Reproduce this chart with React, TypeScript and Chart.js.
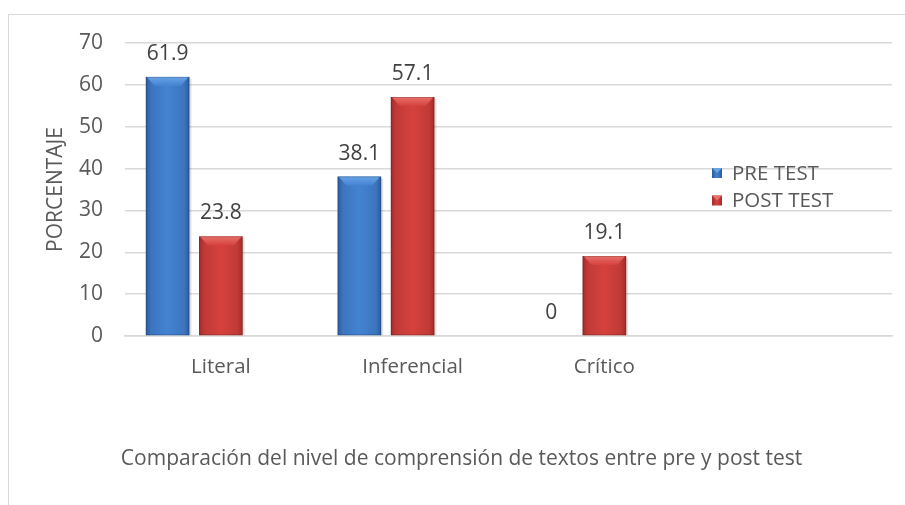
import React, { useEffect, useRef } from "react";
import { Chart, registerables } from "chart.js";

Chart.register(...registerables);

const categories = ["Literal", "Inferencial", "Crítico", ""];
const preTest = [61.9, 38.1, 0, null];
const postTest = [23.8, 57.1, 19.1, null];
const spacer = [null, null, null, null];
const seriesNames = ["PRE TEST", "POST TEST"];
const yTicks = [0, 10, 20, 30, 40, 50, 60, 70];
const xTitle = "Comparación del nivel de comprensión de textos entre pre y post test";
const yTitle = "PORCENTAJE";

const FONT = "'Open Sans', 'DejaVu Sans', sans-serif";
const TEXT = "#595959";

const palettes = [
  { edge: "#2c5c9c", mid: "#4383d2", top: "#6aa3e6", topEdge: "#3d74bd" },
  { edge: "#a22c2a", mid: "#d6413d", top: "#e8716b", topEdge: "#c03a36" },
];

const barStyler = {
  id: "barStyler",
  afterDatasetsDraw(chart: any) {
    const ctx = chart.ctx;
    [0, 1].forEach((di) => {
      const meta = chart.getDatasetMeta(di);
      const pal = palettes[di];
      meta.data.forEach((bar: any, i: number) => {
        const v = chart.data.datasets[di].data[i];
        if (v === null || v === undefined) return;
        const p = bar.getProps(["x", "y", "base", "width"], true);
        const l = p.x - p.width / 2;
        const r = p.x + p.width / 2;
        const t = Math.min(p.y, p.base);
        const b = Math.max(p.y, p.base);
        if (b - t < 0.5) return;
        ctx.save();
        ctx.fillStyle = "rgba(0,0,0,0.12)";
        ctx.fillRect(r, t + 2, 2, b - t - 2);
        const g = ctx.createLinearGradient(l, 0, r, 0);
        g.addColorStop(0, pal.edge);
        g.addColorStop(0.12, pal.topEdge);
        g.addColorStop(0.5, pal.mid);
        g.addColorStop(0.88, pal.topEdge);
        g.addColorStop(1, pal.edge);
        ctx.fillStyle = g;
        ctx.fillRect(l, t, r - l, b - t);
        const bev = Math.min(9, (b - t) / 2);
        const tg = ctx.createLinearGradient(0, t, 0, t + bev);
        tg.addColorStop(0, pal.top);
        tg.addColorStop(1, pal.mid);
        ctx.fillStyle = tg;
        ctx.beginPath();
        ctx.moveTo(l + 1, t);
        ctx.lineTo(r - 1, t);
        ctx.lineTo(r - bev, t + bev);
        ctx.lineTo(l + bev, t + bev);
        ctx.closePath();
        ctx.fill();
        ctx.strokeStyle = "rgba(0,0,0,0.18)";
        ctx.lineWidth = 1;
        ctx.strokeRect(l + 0.5, t + 0.5, r - l - 1, b - t - 1);
        ctx.restore();
      });
    });
  },
};

const labelsPlugin = {
  id: "labelsPlugin",
  afterDraw(chart: any) {
    const ctx = chart.ctx;
    ctx.save();
    ctx.font = `21px ${FONT}`;
    ctx.fillStyle = "#404040";
    ctx.textAlign = "center";
    ctx.textBaseline = "alphabetic";
    [0, 1].forEach((di) => {
      const meta = chart.getDatasetMeta(di);
      meta.data.forEach((bar: any, i: number) => {
        const v = chart.data.datasets[di].data[i];
        if (v === null || v === undefined) return;
        const p = bar.getProps(["x", "y"], true);
        ctx.fillText(String(v), p.x, p.y - 17);
      });
    });
    const lx = chart.chartArea.right - 180;
    const ly = chart.chartArea.top + 130;
    ctx.textAlign = "left";
    ctx.textBaseline = "middle";
    seriesNames.forEach((name, k) => {
      const y = ly + k * 27.5;
      const pal = palettes[k];
      const g = ctx.createLinearGradient(lx, 0, lx + 10, 0);
      g.addColorStop(0, pal.edge);
      g.addColorStop(0.5, pal.mid);
      g.addColorStop(1, pal.edge);
      ctx.fillStyle = g;
      ctx.fillRect(lx, y - 5, 10, 10);
      ctx.fillStyle = pal.top;
      ctx.beginPath();
      ctx.moveTo(lx, y - 5);
      ctx.lineTo(lx + 10, y - 5);
      ctx.lineTo(lx + 5, y);
      ctx.closePath();
      ctx.fill();
      ctx.fillStyle = TEXT;
      ctx.font = `20.5px ${FONT}`;
      ctx.fillText(name, lx + 20, y + 1);
    });
    ctx.textAlign = "center";
    ctx.font = `21px ${FONT}`;
    ctx.fillText(xTitle, chart.width * 0.51, chart.chartArea.bottom + 123);
    ctx.restore();
  },
};

export default function App() {
  const ref = useRef<HTMLCanvasElement>(null);
  useEffect(() => {
    if (!ref.current) return;
    const chart = new Chart(ref.current, {
      type: "bar",
      data: {
        labels: categories,
        datasets: [
          { label: seriesNames[0], data: preTest, backgroundColor: "rgba(0,0,0,0)" },
          { label: seriesNames[1], data: postTest, backgroundColor: "rgba(0,0,0,0)" },
          { label: "", data: spacer, backgroundColor: "rgba(0,0,0,0)" },
        ],
      },
      options: {
        animation: false,
        responsive: false,
        maintainAspectRatio: false,
        layout: { padding: { top: 43, right: 13, left: 0, bottom: 0 } },
        datasets: { bar: { categoryPercentage: 0.833, barPercentage: 0.82 } },
        plugins: { legend: { display: false }, tooltip: { enabled: false } },
        scales: {
          x: {
            grid: { display: false, drawTicks: false },
            border: { display: true, color: "#d9d9d9", width: 1.5 },
            ticks: {
              padding: 19,
              color: TEXT,
              font: { family: FONT, size: 20.5 },
              maxRotation: 0,
              autoSkip: false,
            },
            afterFit: (s: any) => {
              s.height = 169;
            },
          },
          y: {
            min: 0,
            max: 70,
            afterBuildTicks: (s: any) => {
              s.ticks = yTicks.map((v) => ({ value: v }));
            },
            grid: { color: "#d9d9d9", lineWidth: 1.5, drawTicks: false },
            border: { display: false },
            ticks: {
              padding: 22,
              color: TEXT,
              font: { family: FONT, size: 21 },
            },
            title: {
              display: true,
              text: yTitle,
              color: TEXT,
              font: { family: FONT, size: 21 },
              padding: { top: 43, bottom: 0 },
            },
            afterFit: (s: any) => {
              s.width = 125;
            },
          },
        },
      },
      plugins: [barStyler, labelsPlugin],
    });
    return () => chart.destroy();
  }, []);
  return (
    <div style={{ position: "absolute", left: 0, top: 0, width: 905, height: 505, overflow: "hidden", background: "#fff" }}>
      <div
        style={{
          position: "absolute",
          left: 8,
          top: 14,
          width: 1200,
          height: 1200,
          borderLeft: "1.5px solid #d9d9d9",
          borderTop: "1.5px solid #d9d9d9",
        }}
      />
      <canvas ref={ref} width={905} height={505} style={{ position: "absolute", left: 0, top: 0 }} />
    </div>
  );
}
